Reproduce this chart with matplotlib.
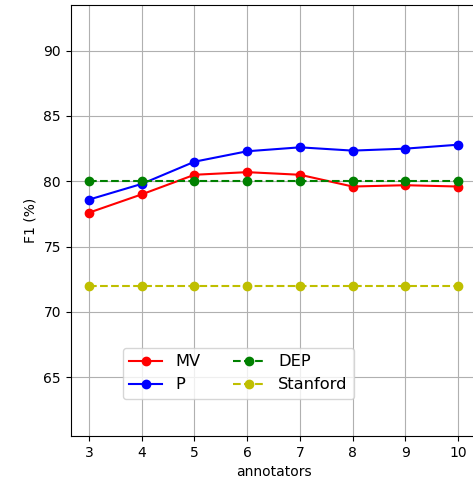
import matplotlib
matplotlib.use('Agg')
import matplotlib.pyplot as plt

annotators = [3, 4, 5, 6, 7, 8, 9, 10]
mv = [77.6, 79.0, 80.5, 80.7, 80.5, 79.6, 79.7, 79.6]
p = [78.6, 79.8, 81.5, 82.3, 82.6, 82.35, 82.5, 82.8]
dep = [80, 80, 80, 80, 80, 80, 80, 80]
stanford = [72, 72, 72, 72, 72, 72, 72, 72]

fig = plt.figure(figsize=(4.73, 4.88), dpi=100)
ax = fig.add_axes([0.1493, 0.1066, 0.858, 0.8832])

ax.plot(annotators, mv, 'r-o', label='MV')
ax.plot(annotators, p, 'b-o', label='P')
ax.plot(annotators, dep, 'g--o', label='DEP')
ax.plot(annotators, stanford, 'y--o', label='Stanford')

ax.set_xlim(2.65, 10.35)
ax.set_ylim(60.5, 93.5)
ax.set_xticks(annotators)
ax.set_yticks([65, 70, 75, 80, 85, 90])
ax.grid(True)
ax.set_xlabel('annotators')
ax.set_ylabel('F1 (%)')
ax.legend(ncol=2, loc='lower left', bbox_to_anchor=(0.129, 0.086),
          borderaxespad=0, fontsize=11.7)

fig.savefig('out.png', dpi=100)
